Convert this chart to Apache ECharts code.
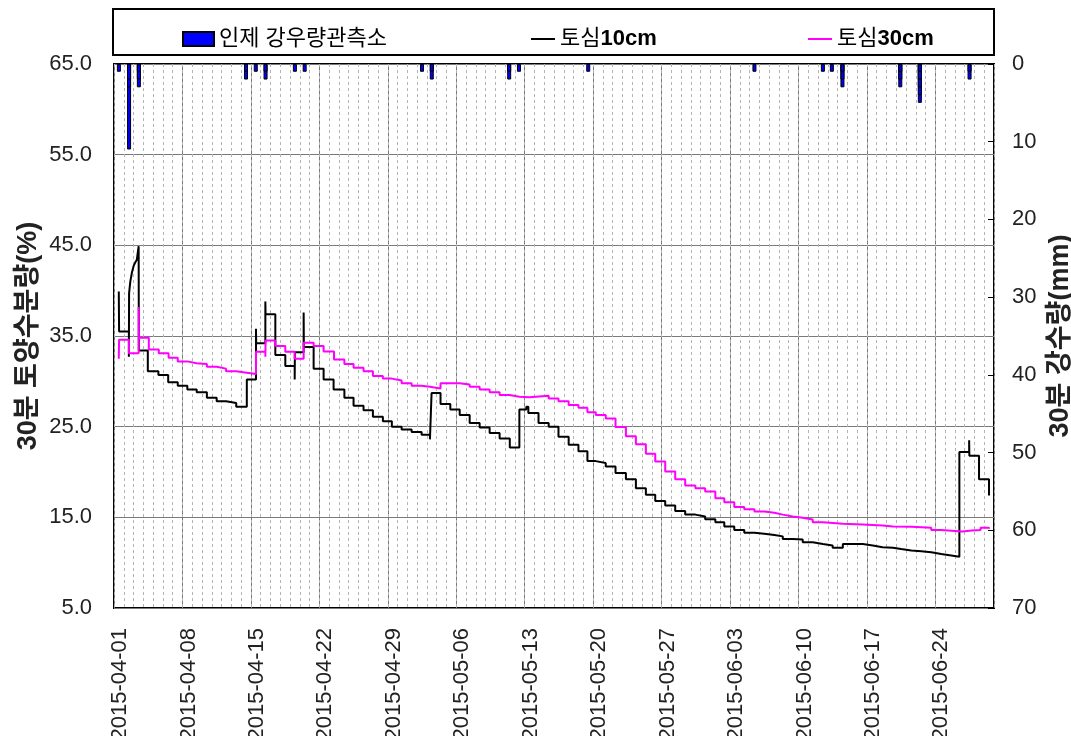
<!DOCTYPE html>
<html><head><meta charset="utf-8">
<script src="https://cdn.jsdelivr.net/npm/echarts@6/dist/echarts.min.js"></script>
<style>html,body{margin:0;padding:0;background:#fff}#c{width:1071px;height:736px}</style>
</head><body><div id="c"></div>
<script>
// x tick labels (every 7 days from 2015-04-01)
const xTickLabels = ['2015-04-01','2015-04-08','2015-04-15','2015-04-22','2015-04-29','2015-05-06','2015-05-13','2015-05-20','2015-05-27','2015-06-03','2015-06-10','2015-06-17','2015-06-24'];

// precipitation (mm), overlapping bars at same time
const rainTimes = ['04-01 12:00','04-02 13:00','04-02 13:00','04-02 13:00','04-03 13:00','04-03 13:00','04-03 13:00','04-14 12:00','04-14 12:00','04-15 12:00','04-16 12:00','04-16 12:00','04-19 12:00','04-20 12:00','05-02 12:00','05-03 12:00','05-03 12:00','05-11 10:00','05-11 10:00','05-12 10:00','05-19 12:00','06-05 12:00','06-12 12:00','06-13 10:00','06-14 12:00','06-14 12:00','06-14 12:00','06-20 10:00','06-20 10:00','06-20 10:00','06-22 10:00','06-22 10:00','06-22 10:00','06-22 10:00','06-22 10:00','06-27 12:00','06-27 12:00'];
const rainValues = [1,11,3,2,3,2,1,2,1,1,2,1,1,1,1,2,1,2,1,1,1,1,1,1,3,2,1,3,2,1,5,4,3,2,1,2,1];

// soil moisture 10cm (%), value holds from its time until the next
const soil10Times = ['04-01 11:45','04-01 12:30','04-02 12:30','04-02 13:00','04-02 16:00','04-02 20:00','04-03 00:00','04-03 04:00','04-03 08:00','04-03 12:00','04-03 12:30','04-03 13:00','04-04 11:00','04-05 13:00','04-06 13:00','04-07 12:30','04-08 12:00','04-09 11:00','04-10 12:00','04-11 12:00','04-12 11:00','04-13 12:00','04-14 14:00','04-15 12:30','04-15 13:00','04-16 11:30','04-16 12:00','04-17 12:00','04-18 12:30','04-19 11:30','04-19 12:00','04-20 09:30','04-20 10:00','04-21 10:00','04-22 10:30','04-23 11:00','04-24 13:30','04-25 12:00','04-26 12:30','04-27 11:30','04-28 12:00','04-29 10:00','04-30 10:00','05-01 10:30','05-02 11:00','05-03 07:30','05-03 11:30','05-04 09:30','05-05 09:30','05-06 08:30','05-07 09:00','05-08 09:30','05-09 10:00','05-10 10:30','05-11 11:30','05-12 11:00','05-13 04:00','05-13 09:00','05-14 10:00','05-15 11:00','05-16 11:00','05-17 12:00','05-18 12:00','05-19 10:00','05-20 06:30','05-21 07:00','05-22 07:00','05-23 08:30','05-24 09:00','05-25 09:30','05-26 08:30','05-27 09:00','05-28 09:30','05-29 10:00','05-30 11:00','05-31 11:00','06-01 12:00','06-02 10:00','06-03 10:30','06-04 11:00','06-05 12:00','06-06 12:00','06-07 13:00','06-08 09:30','06-09 10:00','06-10 10:30','06-11 11:00','06-12 12:00','06-13 12:00','06-14 13:00','06-16 14:00','06-17 14:30','06-18 14:30','06-19 16:00','06-20 12:00','06-21 13:00','06-22 13:30','06-23 14:00','06-24 14:30','06-25 15:00','06-26 11:00','06-27 11:00','06-27 11:30','06-28 11:15','06-29 11:45'];
const soil10Values = [39.9,35.5,32.7,39.7,41.0,42.0,42.7,43.1,43.4,43.6,44.9,33.4,31.1,30.7,29.9,29.5,29.1,28.8,28.2,27.8,27.6,27.2,30.2,35.8,34.2,38.8,37.4,32.9,31.7,30.2,33.2,37.6,33.8,31.4,30.2,29.1,28.2,27.3,26.8,26.1,25.6,25.0,24.7,24.4,24.1,23.6,28.7,27.5,26.9,26.3,25.4,24.9,24.3,23.7,22.7,26.9,27.2,26.5,25.4,25.0,23.9,23.0,22.3,21.2,21.0,20.6,19.9,19.2,18.2,17.5,16.8,16.3,15.7,15.3,15.1,14.8,14.45,14.0,13.6,13.3,13.2,13.05,12.9,12.6,12.55,12.25,12.05,11.9,11.65,12.05,11.9,11.7,11.65,11.5,11.35,11.25,11.15,10.95,10.8,10.65,22.2,23.5,21.8,19.2,17.4];

// soil moisture 30cm (%)
const soil30Times = ['04-01 11:45','04-01 12:30','04-02 12:30','04-03 12:30','04-03 13:00','04-04 13:30','04-05 14:00','04-06 14:00','04-07 12:30','04-08 12:00','04-09 11:00','04-10 12:00','04-11 12:00','04-12 11:00','04-13 12:00','04-14 14:00','04-15 12:30','04-16 11:30','04-16 12:00','04-17 12:00','04-18 12:30','04-19 11:30','04-20 09:30','04-21 10:00','04-22 10:30','04-23 12:00','04-24 13:30','04-25 12:00','04-26 12:30','04-27 11:30','04-28 12:00','04-29 10:00','04-30 10:00','05-01 10:30','05-02 11:00','05-03 07:30','05-04 09:30','05-06 08:30','05-07 09:00','05-08 09:30','05-09 10:00','05-10 10:30','05-11 11:00','05-12 11:00','05-13 11:30','05-15 11:00','05-16 11:00','05-17 12:00','05-18 12:00','05-19 10:00','05-20 06:30','05-21 07:00','05-22 07:00','05-23 08:30','05-24 09:00','05-25 09:30','05-26 08:30','05-27 09:00','05-28 09:30','05-29 10:00','05-30 11:00','05-31 11:00','06-01 12:00','06-02 10:00','06-03 10:30','06-04 11:00','06-05 12:00','06-06 12:00','06-07 13:00','06-08 09:30','06-09 10:00','06-10 10:30','06-11 11:00','06-12 12:00','06-14 13:00','06-16 14:00','06-18 14:30','06-19 16:00','06-21 13:30','06-23 14:00','06-24 14:30','06-26 18:00','06-27 18:00','06-28 15:00','06-29 11:45'];
const soil30Values = [32.5,34.6,33.1,38.2,34.8,33.5,33.1,32.6,32.2,32.0,31.9,31.6,31.4,31.1,30.95,30.8,33.25,32.7,34.5,33.9,33.25,32.5,34.25,33.9,33.3,32.4,31.9,31.5,31.1,30.6,30.3,30.1,29.8,29.5,29.4,29.2,29.8,29.65,29.4,29.1,28.8,28.5,28.3,28.25,28.4,28.1,27.8,27.4,27.1,26.6,26.3,25.9,24.95,23.95,23.05,22.0,21.15,20.05,19.2,18.5,18.2,17.85,17.1,16.65,16.15,15.9,15.65,15.5,15.3,15.1,14.95,14.75,14.45,14.3,14.2,14.1,14.0,13.95,13.85,13.6,13.45,13.55,13.6,13.85,13.75];

// day offset since 2015-04-01 00:00
const BASE = Date.UTC(2015, 3, 1);
function toDay(s) {
  const m = s.match(/(\d+)-(\d+) (\d+):(\d+)/);
  return (Date.UTC(2015, +m[1] - 1, +m[2], +m[3], +m[4]) - BASE) / 86400000;
}
const pairs = (ts, vs) => ts.map((t, i) => [toDay(t), vs[i]]);

const FONT = '"Liberation Sans", Arial, "Noto Sans CJK KR", sans-serif';
const chart = echarts.init(document.getElementById('c'), null, {renderer: 'canvas'});
const legendText = {fontSize: 22, color: '#000', fontFamily: FONT,
  rich: {k: {fontSize: 22, color: '#000', fontFamily: FONT}, n: {fontSize: 22, color: '#000', fontWeight: 'bold', fontFamily: FONT}}};
const splitName = name => {
  const m = name.match(/^(\D+)(\d+cm)$/);
  return m ? '{k|' + m[1] + '}{n|' + m[2] + '}' : name;
};
chart.setOption({
  animation: false,
  backgroundColor: '#fff',
  textStyle: {fontFamily: FONT},
  graphic: [{
    type: 'rect', z: 0,
    shape: {x: 113, y: 9, width: 881, height: 46},
    style: {fill: '#fff', stroke: '#000', lineWidth: 2}
  }],
  legend: [
    {data: ['인제 강우량관측소'], left: 177, top: 23, icon: 'rect', itemWidth: 31, itemHeight: 14, itemGap: 6, z: 5, textStyle: legendText},
    {data: ['토심10cm'], left: 526, top: 23, icon: 'rect', itemWidth: 24, itemHeight: 2, itemGap: 3, z: 5, textStyle: legendText, formatter: splitName},
    {data: ['토심30cm'], left: 803, top: 23, icon: 'rect', itemWidth: 24, itemHeight: 2, itemGap: 3, z: 5, textStyle: legendText, formatter: splitName}
  ],
  grid: {left: 114, right: 77, top: 64, bottom: 128, show: true, borderColor: '#000', borderWidth: 2,
         backgroundColor: 'transparent', containLabel: false, outerBoundsMode: 'none'},
  xAxis: [
    {type: 'value', min: 0, max: 90, interval: 7, position: 'bottom',
     axisLine: {show: false, onZero: false}, axisTick: {show: false},
     splitLine: {show: true, lineStyle: {color: '#7a7a7a', width: 1}},
     axisLabel: {rotate: 90, margin: 20, fontSize: 22, color: '#222', fontFamily: FONT,
       verticalAlign: 'top', lineHeight: 12,
       formatter: v => (v % 7 === 0 && xTickLabels[v / 7]) ? xTickLabels[v / 7] : ''}},
    {type: 'value', min: 0, max: 90, interval: 1, position: 'top',
     axisLine: {show: false, onZero: false}, axisTick: {show: false}, axisLabel: {show: false},
     splitLine: {show: true, lineStyle: {color: '#b4b4b4', width: 1, type: [3, 3]}}}
  ],
  yAxis: [
    {type: 'value', min: 5, max: 65, interval: 10, position: 'left',
     name: '30분 토양수분량(%)', nameLocation: 'middle', nameRotate: 90, nameGap: 72, nameMoveOverlap: false,
     nameTextStyle: {fontSize: 27, fontWeight: 'bold', color: '#222', fontFamily: FONT},
     axisLine: {show: false, onZero: false}, axisTick: {show: false},
     splitLine: {show: true, lineStyle: {color: '#7a7a7a', width: 1}},
     axisLabel: {fontSize: 22, color: '#222', margin: 22, formatter: v => v.toFixed(1), fontFamily: FONT}},
    {type: 'value', min: 0, max: 70, interval: 10, position: 'right', inverse: true,
     name: '30분 강수량(mm)', nameLocation: 'middle', nameRotate: 90, nameGap: 53, nameMoveOverlap: false,
     nameTextStyle: {fontSize: 27, fontWeight: 'bold', color: '#222', fontFamily: FONT},
     axisLine: {show: false, onZero: false},
     axisTick: {show: true, inside: true, length: 6, lineStyle: {color: '#000'}},
     splitLine: {show: false},
     axisLabel: {fontSize: 22, color: '#222', margin: 18, fontFamily: FONT}}
  ],
  series: [
    {name: '인제 강우량관측소', type: 'bar', xAxisIndex: 0, yAxisIndex: 1, barWidth: 4,
     itemStyle: {color: '#0000ff', borderColor: '#000', borderWidth: 1},
     data: pairs(rainTimes, rainValues), z: 3},
    {name: '토심10cm', type: 'line', xAxisIndex: 0, yAxisIndex: 0, step: 'end', symbol: 'none',
     lineStyle: {color: '#000', width: 2}, itemStyle: {color: '#000'},
     data: pairs(soil10Times, soil10Values), z: 4},
    {name: '토심30cm', type: 'line', xAxisIndex: 0, yAxisIndex: 0, step: 'end', symbol: 'none',
     lineStyle: {color: '#ff00ff', width: 2}, itemStyle: {color: '#ff00ff'},
     data: pairs(soil30Times, soil30Values), z: 5}
  ]
});
</script></body></html>
